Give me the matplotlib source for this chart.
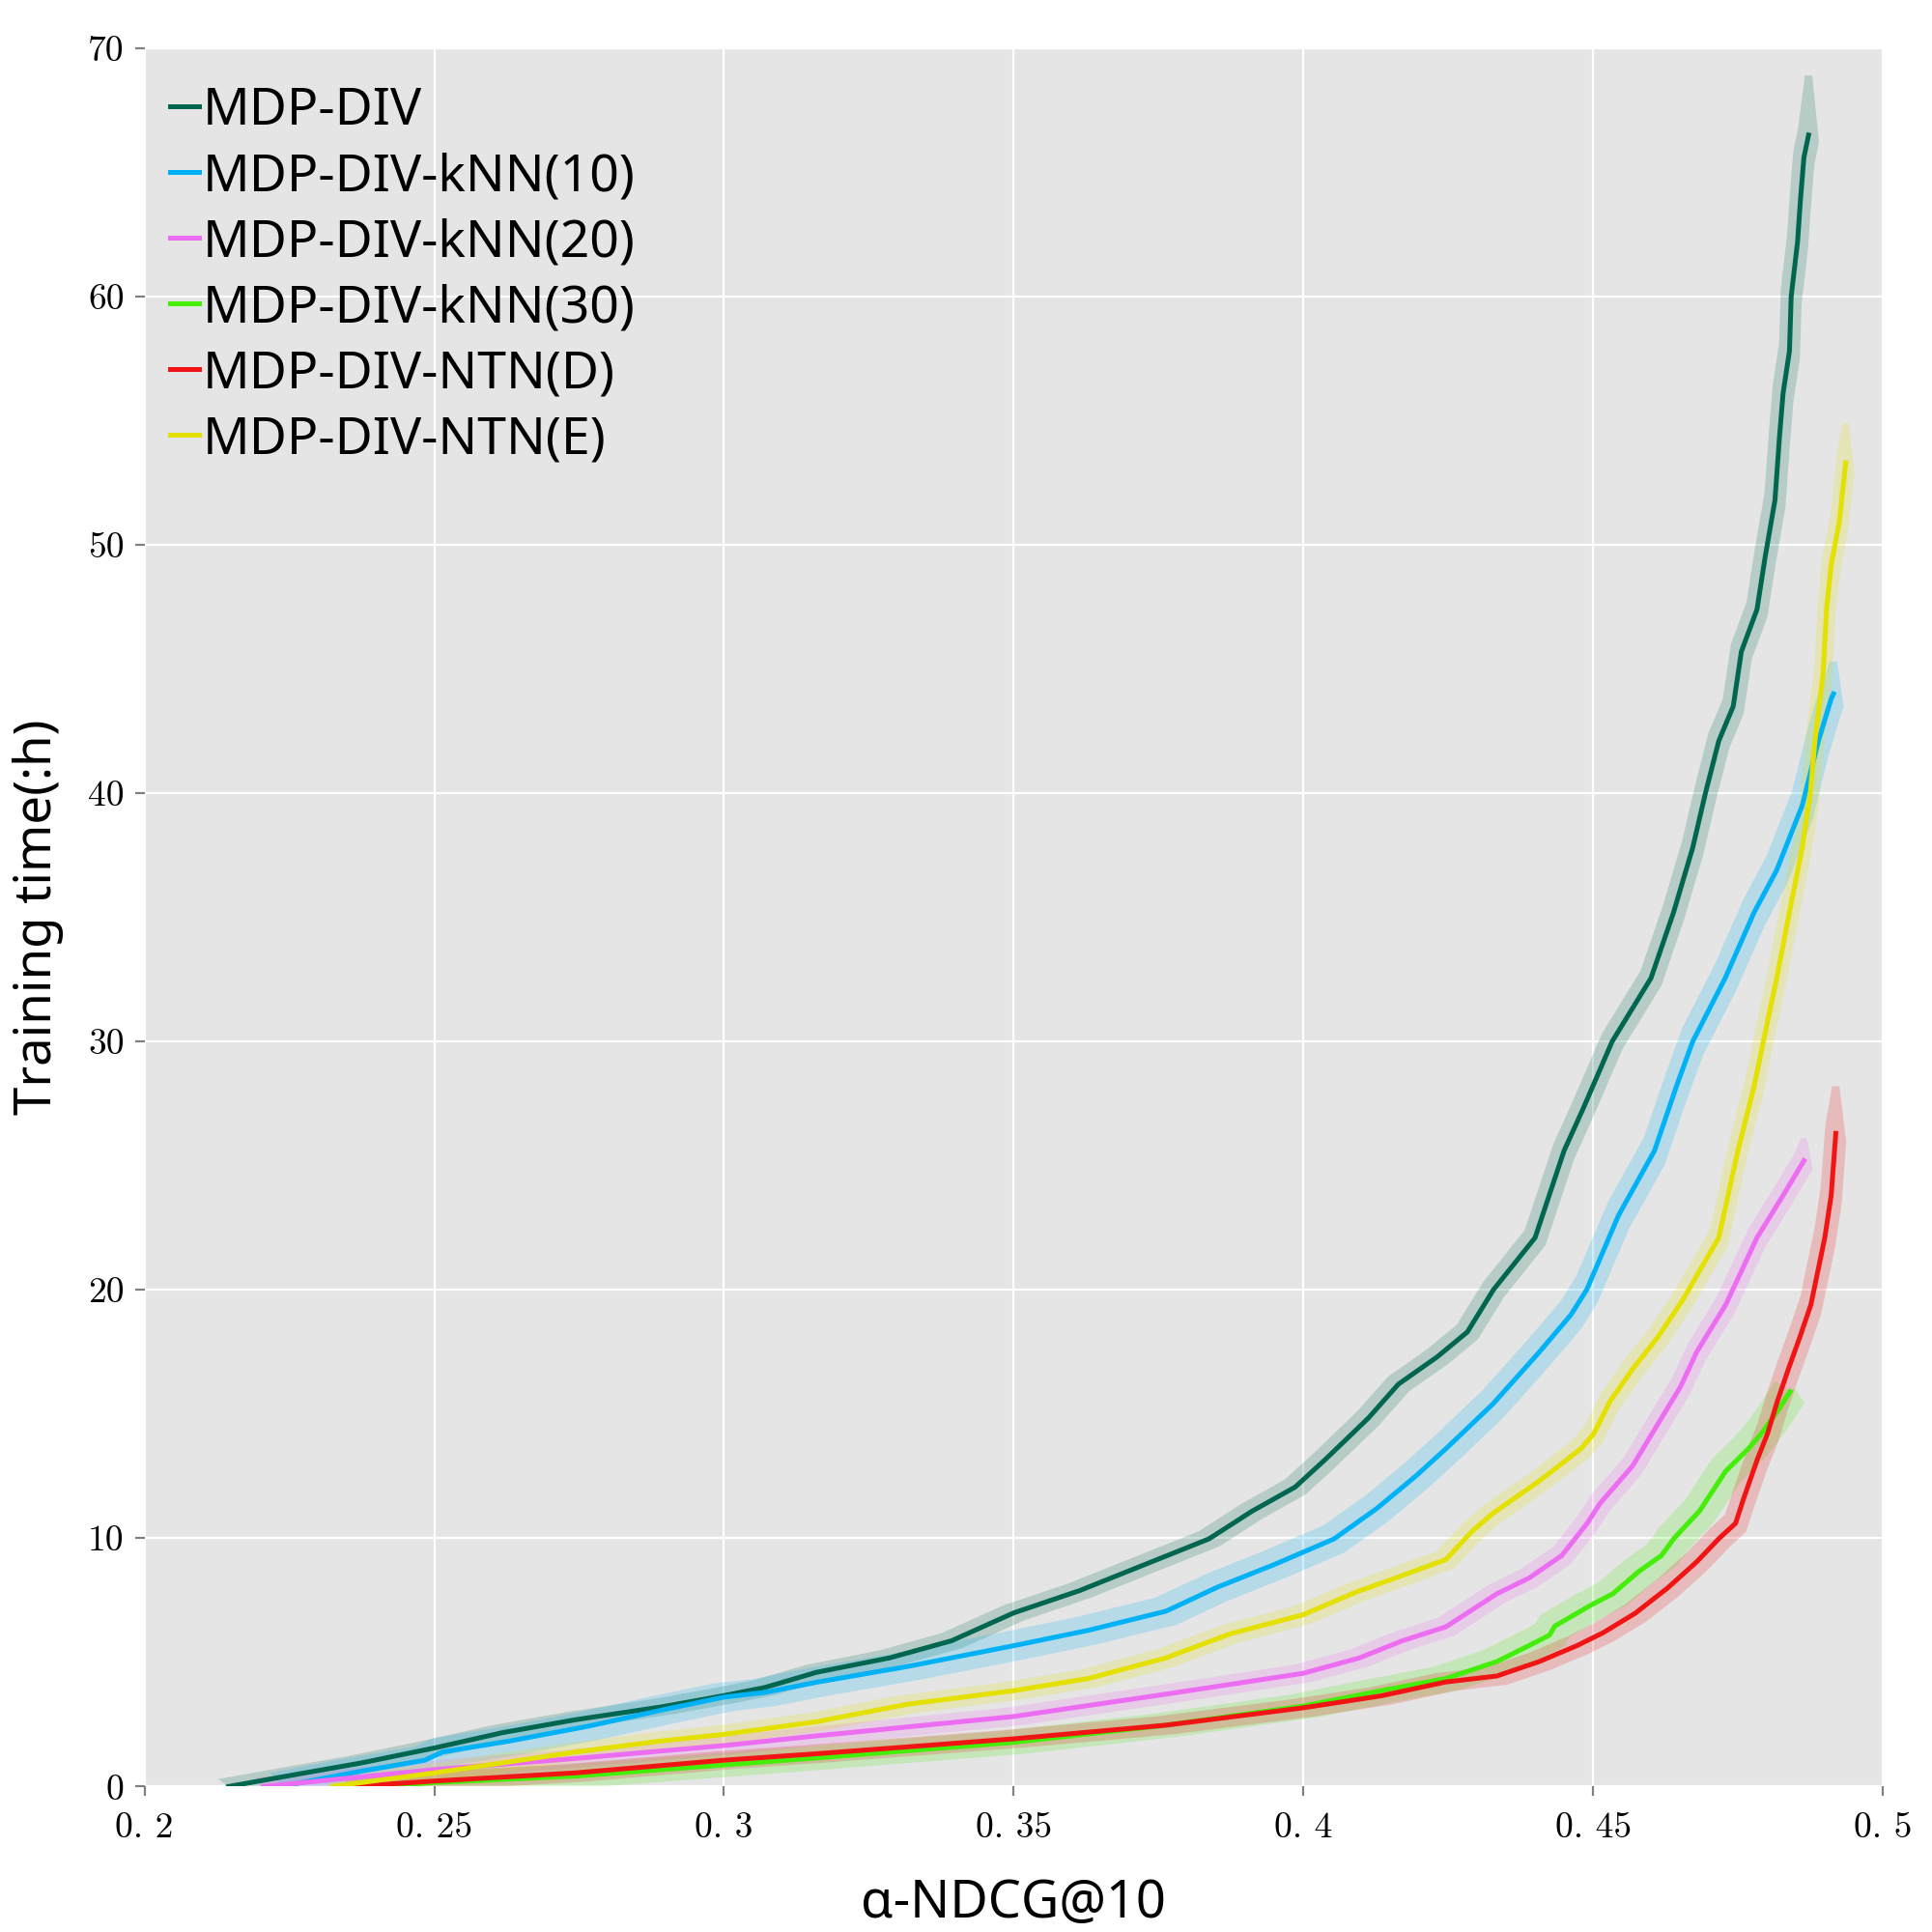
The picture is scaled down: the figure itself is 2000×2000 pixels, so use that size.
import numpy as np
import matplotlib
matplotlib.use("Agg")
import matplotlib.pyplot as plt

# alpha-NDCG@10 (x) vs training time in hours (y)
labels = ["MDP-DIV", "MDP-DIV-kNN(10)", "MDP-DIV-kNN(20)",
          "MDP-DIV-kNN(30)", "MDP-DIV-NTN(D)", "MDP-DIV-NTN(E)"]

div_x = [0.2145, 0.226, 0.2372, 0.25, 0.2618, 0.2744, 0.2893, 0.30, 0.3071, 0.316,
         0.3286, 0.3393, 0.35, 0.3614, 0.3763, 0.3837, 0.3911, 0.3986, 0.4038, 0.4112,
         0.4164, 0.4231, 0.4283, 0.4328, 0.44, 0.445, 0.4483, 0.4533, 0.46, 0.4639,
         0.4672, 0.4694, 0.4717, 0.4742, 0.4756, 0.4783, 0.4797, 0.4814, 0.4822, 0.4828,
         0.4839, 0.4842, 0.4853, 0.4858, 0.4864, 0.4872]
div_y = [0, 0.48, 0.94, 1.55, 2.17, 2.69, 3.21, 3.66, 3.99, 4.6,
         5.18, 5.87, 6.99, 7.89, 9.28, 9.97, 11.08, 12.06, 13.17, 14.83,
         16.2, 17.3, 18.3, 20.0, 22.1, 25.6, 27.3, 30.0, 32.55, 35.2,
         37.8, 40.0, 42.1, 43.5, 45.7, 47.4, 49.5, 51.8, 54.4, 56.1,
         57.8, 60.0, 62.2, 63.9, 65.6, 66.5]

knn10_x = [0.2235, 0.2372, 0.2484, 0.2514, 0.2632, 0.2766, 0.2893, 0.30, 0.3071, 0.316,
           0.3316, 0.35, 0.3629, 0.3763, 0.3852, 0.3949, 0.4053, 0.4127, 0.4194, 0.4246,
           0.4327, 0.4406, 0.4462, 0.4489, 0.4544, 0.4606, 0.4644, 0.4672, 0.4728, 0.4778,
           0.4817, 0.4861, 0.4889, 0.4911, 0.4915]
knn10_y = [0, 0.61, 1.06, 1.39, 1.84, 2.43, 3.08, 3.6, 3.79, 4.2,
           4.83, 5.67, 6.29, 7.06, 8.03, 8.93, 9.97, 11.2, 12.5, 13.6,
           15.4, 17.46, 19.0, 20.0, 23.0, 25.6, 28.2, 30.0, 32.55, 35.2,
           36.9, 39.5, 42.1, 43.8, 44.0]

knn20_x = [0.2205, 0.25, 0.2744, 0.30, 0.316, 0.35, 0.3763, 0.40, 0.4097, 0.4171,
           0.4246, 0.4334, 0.439, 0.4446, 0.449, 0.4512, 0.4568, 0.4612, 0.4651, 0.4679,
           0.4729, 0.4783, 0.4828, 0.4864]
knn20_y = [0, 0.68, 1.13, 1.65, 2.04, 2.82, 3.72, 4.56, 5.18, 5.87,
           6.43, 7.76, 8.4, 9.3, 10.6, 11.4, 12.9, 14.6, 16.1, 17.5,
           19.4, 22.1, 23.8, 25.2]

knn30_x = [0.240, 0.25, 0.2744, 0.30, 0.316, 0.35, 0.3763, 0.40, 0.4134, 0.4246,
           0.4334, 0.4412, 0.4425, 0.4434, 0.4496, 0.4534, 0.4579, 0.4618, 0.464, 0.4684,
           0.4729, 0.4768, 0.479, 0.4818, 0.484]
knn30_y = [0, 0.16, 0.42, 0.87, 1.15, 1.78, 2.47, 3.24, 3.86, 4.35,
           5.03, 5.94, 6.1, 6.46, 7.3, 7.76, 8.66, 9.3, 10.0, 11.1,
           12.7, 13.6, 14.2, 15.1, 15.9]

ntnd_x = [0.2357, 0.25, 0.2744, 0.30, 0.316, 0.35, 0.3763, 0.40, 0.4134, 0.4246,
          0.4334, 0.4407, 0.4473, 0.4518, 0.4573, 0.4629, 0.4679, 0.4718, 0.4746, 0.476,
          0.4784, 0.4801, 0.4818, 0.4837, 0.4857, 0.4876, 0.4900, 0.4911, 0.4919]
ntnd_y = [0, 0.22, 0.55, 1.06, 1.32, 1.92, 2.47, 3.17, 3.65, 4.21,
          4.45, 5.03, 5.68, 6.2, 6.98, 8.0, 9.05, 10.0, 10.6, 11.6,
          13.2, 14.2, 15.5, 16.8, 18.1, 19.4, 22.1, 23.8, 26.3]

ntne_x = [0.2324, 0.25, 0.2632, 0.2744, 0.2893, 0.30, 0.316, 0.3316, 0.35, 0.3629,
          0.3763, 0.3874, 0.40, 0.409, 0.4157, 0.4246, 0.429, 0.4327, 0.4407, 0.4479,
          0.4501, 0.4529, 0.4568, 0.4612, 0.4655, 0.4717, 0.475, 0.4778, 0.4794, 0.4817,
          0.4839, 0.4861, 0.4875, 0.4883, 0.4897, 0.4903, 0.4911, 0.4925, 0.4936]
ntne_y = [0, 0.55, 1.0, 1.39, 1.84, 2.1, 2.61, 3.31, 3.86, 4.35,
          5.18, 6.15, 6.92, 7.82, 8.38, 9.14, 10.25, 11.0, 12.3, 13.6,
          14.2, 15.5, 16.8, 18.1, 19.6, 22.1, 25.6, 28.2, 30.0, 32.55,
          35.2, 37.8, 40.0, 42.1, 44.8, 47.4, 49.2, 50.9, 53.3]

# spread of the shaded band (x half-width, hours half-width) and where it tops out
band_dx = [0.0018, 0.0018, 0.0015, 0.0025, 0.0018, 0.0015]
band_dy = [0.3, 0.55, 0.35, 0.45, 0.35, 0.35]
band_top = [68.9, 45.3, 26.1, 16.0, 28.2, 54.9]

xticks = [0.2, 0.25, 0.3, 0.35, 0.4, 0.45, 0.5]
xtick_labels = ["0. 2", "0. 25", "0. 3", "0. 35", "0. 4", "0. 45", "0. 5"]
yticks = [0, 10, 20, 30, 40, 50, 60, 70]

colors = ["#00664f", "#00b2f5", "#ec6cf2", "#44ee08", "#f01414", "#e4e000"]

series = [(div_x, div_y), (knn10_x, knn10_y), (knn20_x, knn20_y),
          (knn30_x, knn30_y), (ntnd_x, ntnd_y), (ntne_x, ntne_y)]

fig = plt.figure(figsize=(10, 10), dpi=200)
ax = fig.add_axes([0.0748, 0.0753, 0.8997, 0.8998])
ax.set_facecolor("#e5e5e5")
for s in ax.spines.values():
    s.set_visible(False)
ax.grid(True, color="white", linewidth=0.8)
ax.set_axisbelow(True)

for i, (xs, ys) in enumerate(series):
    x = np.array(xs)
    y = np.array(ys)
    # band: upper-left edge and lower-right edge, thin tail above the line end
    bx = np.append(x, x[-1])
    by = np.append(y, band_top[i])
    wx = np.full(len(bx), band_dx[i])
    wy = np.full(len(bx), band_dy[i])
    wx[-1] = band_dx[i] * 0.35
    wy[-1] = 0.0
    px = np.concatenate([bx - wx, (bx + wx)[::-1]])
    py = np.concatenate([by + wy, (by - wy)[::-1]])
    ax.fill(px, py, color=colors[i], alpha=0.2, linewidth=0)
    ax.plot(x, y, color=colors[i], linewidth=1.8, label=labels[i])

ax.set_xlim(0.2, 0.5)
ax.set_ylim(0, 70)
ax.set_xticks(xticks)
ax.set_xticklabels(xtick_labels)
ax.set_yticks(yticks)
ax.tick_params(axis="both", direction="out", length=3.6, width=0.8,
               color="#808080", labelsize=13.5, labelcolor="black", pad=4)
for lab in ax.get_xticklabels() + ax.get_yticklabels():
    lab.set_family("cmr10")
ax.tick_params(axis="x", pad=6)

ax.set_xlabel("α-NDCG@10", fontsize=19.5, family="Noto Sans", labelpad=12)
ax.set_ylabel("Training time(:h)", fontsize=19, family="Noto Sans", labelpad=9)

leg = ax.legend(loc="upper left", bbox_to_anchor=(0, 0.993), frameon=False,
                handlelength=0.55, handletextpad=0.08, labelspacing=0.28,
                borderaxespad=0.1, borderpad=0.4,
                prop={"family": "Noto Sans", "size": 19.3})

fig.savefig("out.png", dpi=200)
